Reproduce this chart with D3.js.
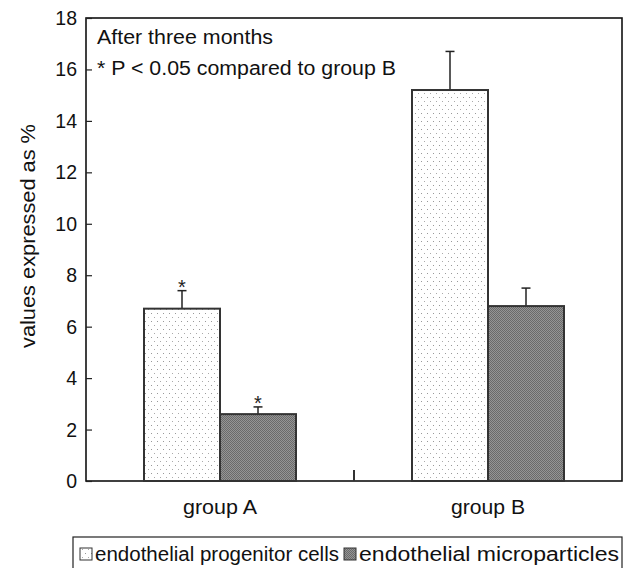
<!DOCTYPE html>
<html><head><meta charset="utf-8">
<script src="https://cdn.jsdelivr.net/npm/d3@7"></script>
<style>body{margin:0;background:#fff}svg{display:block;font-family:"Liberation Sans",Arial,sans-serif}</style>
</head><body><svg id="c" width="625" height="568"></svg>
<script>
const groups = ["group A", "group B"];
const seriesNames = ["endothelial progenitor cells", "endothelial microparticles"];
const epcValues = [6.7, 15.2];
const epcErrors = [7.4, 16.7];
const empValues = [2.6, 6.8];
const empErrors = [2.88, 7.5];
const significant = [true, false];
const yTicks = [0, 2, 4, 6, 8, 10, 12, 14, 16, 18];

const svg = d3.select("#c");
const m = {l: 86, r: 622, t: 18, b: 481};
const defs = svg.append("defs");
const p1 = defs.append("pattern").attr("id","dots").attr("patternUnits","userSpaceOnUse").attr("width",6).attr("height",8);
p1.append("rect").attr("width",6).attr("height",8).attr("fill","#fff");
p1.append("rect").attr("x",1).attr("y",1).attr("width",1).attr("height",1).attr("fill","#999");
p1.append("rect").attr("x",4).attr("y",5).attr("width",1).attr("height",1).attr("fill","#aaa");
const p2 = defs.append("pattern").attr("id","dark").attr("patternUnits","userSpaceOnUse").attr("width",2).attr("height",2);
p2.append("rect").attr("width",2).attr("height",2).attr("fill","#959595");
p2.append("rect").attr("width",1).attr("height",1).attr("fill","#6a6a6a");
p2.append("rect").attr("x",1).attr("y",1).attr("width",1).attr("height",1).attr("fill","#6a6a6a");

const y = d3.scaleLinear().domain([0,18]).range([m.b, m.t]);
const x = d3.scaleBand().domain(groups).range([m.l, m.r]);
const xs = d3.scaleBand().domain(seriesNames).range([-76, 76]);

const data = [];
groups.forEach((g,i)=>{
  data.push({g, s: seriesNames[0], v: epcValues[i], e: epcErrors[i], sig: significant[i], fill:"url(#dots)"});
  data.push({g, s: seriesNames[1], v: empValues[i], e: empErrors[i], sig: significant[i], fill:"url(#dark)"});
});
const cx = d => x(d.g) + x.bandwidth()/2 + xs(d.s);

// frame
svg.append("rect").attr("x",m.l).attr("y",m.t).attr("width",m.r-m.l).attr("height",m.b-m.t)
  .attr("fill","none").attr("stroke","#111").attr("stroke-width",1.6);

// error bars
const eb = svg.append("g").attr("stroke","#222").attr("stroke-width",1.5);
data.forEach(d=>{
  const c = cx(d) + xs.bandwidth()/2;
  eb.append("line").attr("x1",c).attr("x2",c).attr("y1",y(d.v)).attr("y2",y(d.e));
  eb.append("line").attr("x1",c-4.5).attr("x2",c+4.5).attr("y1",y(d.e)).attr("y2",y(d.e));
});
// bars
svg.append("g").selectAll("rect").data(data).join("rect")
  .attr("x",d=>cx(d)).attr("y",d=>y(d.v)).attr("width",xs.bandwidth()).attr("height",d=>y(0)-y(d.v))
  .attr("fill",d=>d.fill).attr("stroke","#333").attr("stroke-width",2);
// stars
svg.append("g").selectAll("text").data(data.filter(d=>d.sig)).join("text")
  .attr("x",d=>cx(d)+xs.bandwidth()/2).attr("y",d=>y(d.e)+3).attr("text-anchor","middle")
  .attr("font-size",20).attr("fill","#222").text("*");

// y axis ticks inward
const ya = svg.append("g").attr("transform",`translate(${m.l},0)`)
  .call(d3.axisRight(y).tickValues(yTicks).tickSize(6).tickFormat(""));
ya.select(".domain").remove();
ya.selectAll("line").attr("stroke","#222").attr("stroke-width",1.2);
svg.append("g").selectAll("text").data(yTicks).join("text")
  .attr("x",77).attr("y",d=>y(d)+7).attr("text-anchor","end").attr("font-size",19.5).attr("fill","#111").text(d=>d);

// x axis
const xa = svg.append("g").attr("transform",`translate(0,${m.b})`)
  .call(d3.axisBottom(x).tickSize(0).tickPadding(19));
xa.select(".domain").remove();
xa.selectAll("text").attr("font-size",20).attr("fill","#111").attr("font-family","Liberation Sans, Arial, sans-serif")
  .attr("textLength",74).attr("lengthAdjust","spacingAndGlyphs");
svg.append("line").attr("x1",x(groups[1])).attr("x2",x(groups[1])).attr("y1",m.b).attr("y2",m.b-11)
  .attr("stroke","#333").attr("stroke-width",2);

// y label
svg.append("text").attr("transform",`translate(35,236) rotate(-90)`).attr("text-anchor","middle")
  .attr("font-size",20).attr("fill","#111").attr("textLength",224).attr("lengthAdjust","spacingAndGlyphs")
  .text("values expressed as %");

// annotations
svg.append("text").attr("x",97).attr("y",44).attr("font-size",20).attr("fill","#111")
  .attr("textLength",176).attr("lengthAdjust","spacingAndGlyphs").text("After three months");
svg.append("text").attr("x",97).attr("y",75).attr("font-size",20).attr("fill","#111")
  .attr("textLength",299).attr("lengthAdjust","spacingAndGlyphs").text("* P < 0.05 compared to group B");

// legend
const lg = svg.append("g");
lg.append("rect").attr("x",73).attr("y",537).attr("width",549).attr("height",40).attr("fill","#fff").attr("stroke","#222").attr("stroke-width",1.2);
const legItems = [{s:seriesNames[0], fill:"url(#dots)", x:80, w:244},{s:seriesNames[1], fill:"url(#dark)", x:344, w:260}];
legItems.forEach(it=>{
  lg.append("rect").attr("x",it.x).attr("y",548).attr("width",12).attr("height",12).attr("fill",it.fill).attr("stroke","#333").attr("stroke-width",1);
  lg.append("text").attr("x",it.x+15).attr("y",561).attr("font-size",20).attr("fill","#111")
    .attr("textLength",it.w).attr("lengthAdjust","spacingAndGlyphs").text(it.s);
});
</script></body></html>
